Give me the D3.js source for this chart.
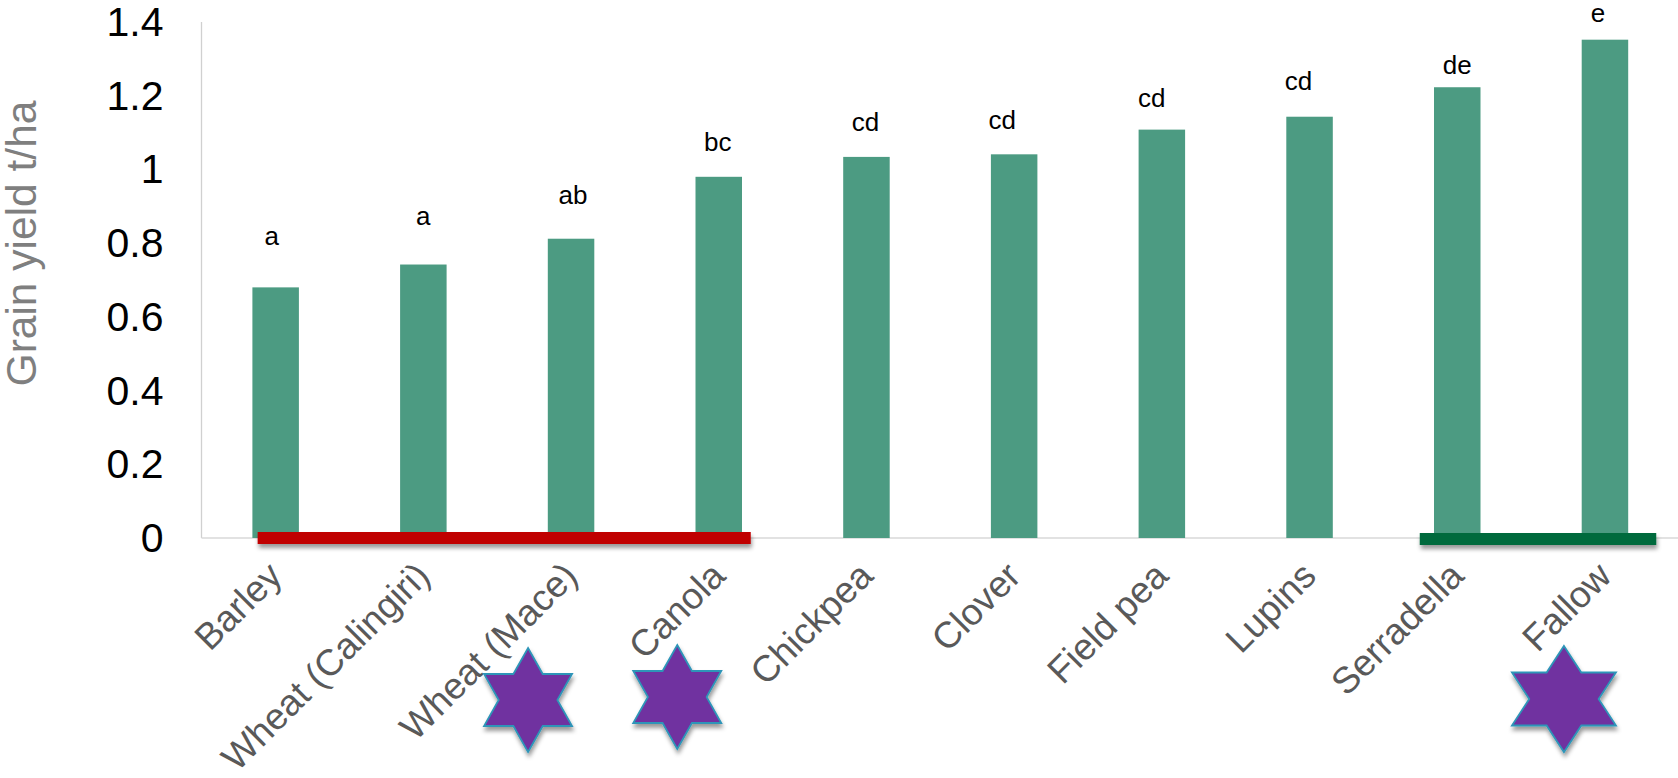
<!DOCTYPE html>
<html><head><meta charset="utf-8">
<script src="https://cdn.jsdelivr.net/npm/d3@7"></script>
<style>html,body{margin:0;padding:0;background:#fff}svg{display:block}text{font-family:"Liberation Sans",Arial,sans-serif}</style>
</head><body><svg id="c" width="1678" height="778"></svg>
<script>
const categories=["Barley","Wheat (Calingiri)","Wheat (Mace)","Canola","Chickpea","Clover","Field pea","Lupins","Serradella","Fallow"];
const yields=[0.68,0.742,0.812,0.98,1.034,1.041,1.108,1.143,1.223,1.352];
const letters=["a","a","ab","bc","cd","cd","cd","cd","de","e"];
const letterHeights=[0.794,0.849,0.905,1.049,1.105,1.109,1.169,1.215,1.26,1.4];
const letterShifts=[-4,0,2,-1,-1,-12,-10,-11,0,-7];
const yTicks=[0,0.2,0.4,0.6,0.8,1,1.2,1.4];
const starCategories=["Wheat (Mace)","Canola","Fallow"];
const starShifts=[[-43,700,44,52],[-41.5,697,44,52],[-41,699,52,53]];

const svg=d3.select("#c");
const defs=svg.append("defs");
const f=defs.append("filter").attr("id","sh").attr("x","-20%").attr("y","-40%").attr("width","140%").attr("height","220%");
f.append("feDropShadow").attr("dx",1).attr("dy",4).attr("stdDeviation",2).attr("flood-color","#000").attr("flood-opacity",0.4);

const x=d3.scaleBand().domain(categories).range([201.8,1678.8]);
const y=d3.scaleLinear().domain([0,1.4]).range([538,22]);
const bw=46.5;

svg.append("line").attr("x1",201.5).attr("x2",201.5).attr("y1",y(1.4)).attr("y2",y(0)).attr("stroke","#d0d0d0").attr("stroke-width",1.3);
svg.append("line").attr("x1",201.5).attr("x2",1678).attr("y1",y(0)).attr("y2",y(0)).attr("stroke","#d9d9d9").attr("stroke-width",1.3);

svg.selectAll("rect.bar").data(yields).join("rect").attr("class","bar")
 .attr("x",(d,i)=>x(categories[i])+x.bandwidth()/2-bw/2).attr("width",bw)
 .attr("y",d=>y(d)).attr("height",d=>y(0)-y(d)).attr("fill","#4c9b82");

svg.selectAll("text.yt").data(yTicks).join("text").attr("class","yt")
 .attr("x",163.5).attr("y",d=>y(d)+14).attr("text-anchor","end").attr("font-size",41).attr("fill","#000").text(d=>d);

svg.append("text").attr("transform","translate(36,243.5) rotate(-90)").attr("text-anchor","middle")
 .attr("font-size",42.5).attr("fill","#7f7f7f").text("Grain yield t/ha");

svg.selectAll("text.let").data(letters).join("text").attr("class","let")
 .attr("x",(d,i)=>x(categories[i])+x.bandwidth()/2+letterShifts[i])
 .attr("y",(d,i)=>y(letterHeights[i])).attr("text-anchor","middle").attr("font-size",26).attr("fill","#000").text(d=>d);

svg.selectAll("text.cat").data(categories).join("text").attr("class","cat")
 .attr("transform",d=>`translate(${x(d)+x.bandwidth()/2+8.5},${y(0)+40}) rotate(-45)`)
 .attr("text-anchor","end").attr("font-size",37).attr("fill","#595959").text(d=>d);

svg.append("rect").attr("x",x("Barley")+x.bandwidth()/2-18).attr("width",x("Canola")+x.bandwidth()/2+32-(x("Barley")+x.bandwidth()/2-18))
 .attr("y",y(0)-6).attr("height",12).attr("fill","#c00000").attr("filter","url(#sh)");
svg.append("rect").attr("x",x("Serradella")+x.bandwidth()/2-37.5).attr("width",236.5)
 .attr("y",y(0)-5).attr("height",12).attr("fill","#006b3c").attr("filter","url(#sh)");

starCategories.forEach((c,i)=>{
 const [dx,cy,rx,ry]=starShifts[i];
 const cx=x(c)+x.bandwidth()/2+dx;
 const pts=d3.range(12).map(k=>{
  const a=Math.PI*k/6, r=k%2===0?1:0.5774;
  const sx=rx/0.866;
  return [cx+Math.sin(a)*r*sx, cy-Math.cos(a)*r*ry];
 });
 svg.append("polygon").attr("points",pts.map(p=>p.join(",")).join(" "))
  .attr("fill","#7030a0").attr("stroke","#2e95b8").attr("stroke-width",1.8).attr("filter","url(#sh)");
});
</script></body></html>
